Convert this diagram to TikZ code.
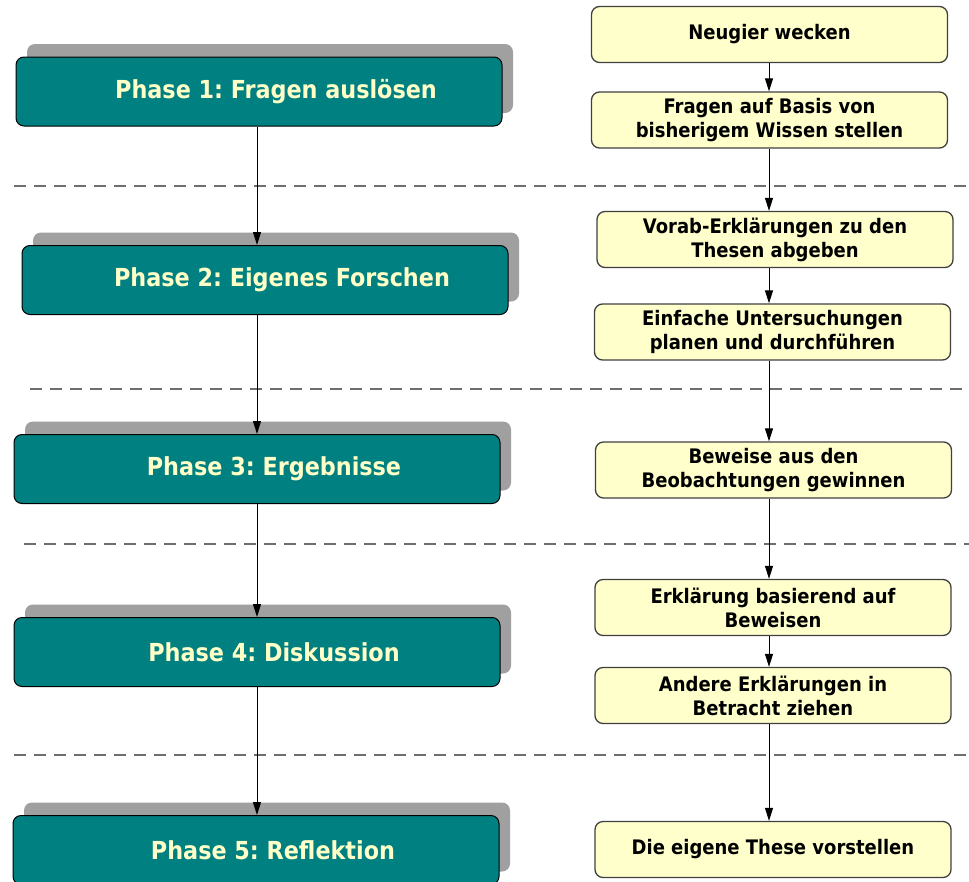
\documentclass[tikz,border=0pt]{standalone}
\usepackage{fontspec}
\setmainfont{DejaVu Sans Condensed}
\frenchspacing
\usetikzlibrary{shadows,arrows.meta,calc}
\definecolor{teal1}{RGB}{0,128,128}
\definecolor{txtyel}{RGB}{255,255,200}
\definecolor{boxyel}{RGB}{255,255,204}
\definecolor{shadowgray}{RGB}{160,160,160}
\definecolor{dashgray}{RGB}{110,110,110}
\newcommand{\phtxt}[1]{\hspace*{34pt}#1}
\tikzset{
  phase/.style={draw=black, line width=1pt, fill=teal1, rounded corners=8pt,
    minimum width=486pt, minimum height=69pt, inner sep=0pt,
    text=txtyel, font=\fontsize{24.8}{28}\selectfont\bfseries,
    general shadow={shadow xshift=11pt, shadow yshift=13pt, fill=shadowgray, rounded corners=8pt}},
  stepbox/.style={draw=black!75, line width=1.3pt, fill=boxyel, rounded corners=8pt,
    minimum width=356pt, minimum height=56pt, inner sep=0pt, align=center,
    text=black, font=\fontsize{20}{24}\selectfont\bfseries},
  arr/.style={draw=black, line width=1pt, -{Triangle[length=13pt,width=8pt]}},
  sep/.style={draw=dashgray, line width=1.3pt, dash pattern=on 12pt off 8pt}
}
\begin{document}
\begin{tikzpicture}[x=1pt,y=-1pt]
\useasboundingbox (0,0) rectangle (969,881);
\clip (0,0) rectangle (969,881);
% dashed separators
\coordinate (d1a) at (14,186);  \coordinate (d1b) at (969,186);
\coordinate (d2a) at (30,389);  \coordinate (d2b) at (969,389);
\coordinate (d3a) at (24,544);  \coordinate (d3b) at (969,544);
\coordinate (d4a) at (14,755);  \coordinate (d4b) at (969,755);
\draw[sep] (d1a) -- (d1b);
\draw[sep] (d2a) -- (d2b);
\draw[sep] (d3a) -- (d3b);
\draw[sep] (d4a) -- (d4b);
% phase boxes
\node[phase] (p1) at (259,91.5) {\phtxt{Phase 1: Fragen auslösen}};
\node[phase] (p2) at (265,280) {\phtxt{Phase 2: Eigenes Forschen}};
\node[phase] (p3) at (257,469) {\phtxt{Phase 3: Ergebnisse}};
\node[phase] (p4) at (257,652) {\phtxt{Phase 4: Diskussion}};
\node[phase] (p5) at (256,850) {\phtxt{Phase 5: Reflektion}};
% step boxes
\node[stepbox] (r1) at (769.5,34.5) {Neugier wecken};
\node[stepbox] (r2) at (769.5,120) {Fragen auf Basis von\\bisherigem Wissen stellen};
\node[stepbox] (r3) at (775,239.5) {Vorab-Erklärungen zu den\\Thesen abgeben};
\node[stepbox] (r4) at (772.5,332) {Einfache Untersuchungen\\planen und durchführen};
\node[stepbox] (r5) at (773.5,470) {Beweise aus den\\Beobachtungen gewinnen};
\node[stepbox] (r6) at (773,607.5) {Erklärung basierend auf\\Beweisen};
\node[stepbox] (r7) at (773,695.5) {Andere Erklärungen in\\Betracht ziehen};
\node[stepbox] (r8) at (773,849.5) {Die eigene These vorstellen};
% arrows
\coordinate (lx) at (257,0);
\coordinate (rx) at (769,0);
\draw[arr] (p1.south -| lx) -- (p2.north -| lx);
\draw[arr] (p2.south -| lx) -- (p3.north -| lx);
\draw[arr] (p3.south -| lx) -- (p4.north -| lx);
\draw[arr] (p4.south -| lx) -- (p5.north -| lx);
\draw[arr] (r1.south -| rx) -- (r2.north -| rx);
\draw[arr] (r2.south -| rx) -- (r3.north -| rx);
\draw[arr] (r3.south -| rx) -- (r4.north -| rx);
\draw[arr] (r4.south -| rx) -- (r5.north -| rx);
\draw[arr] (r5.south -| rx) -- (r6.north -| rx);
\draw[arr] (r6.south -| rx) -- (r7.north -| rx);
\draw[arr] (r7.south -| rx) -- (r8.north -| rx);
\end{tikzpicture}
\end{document}
